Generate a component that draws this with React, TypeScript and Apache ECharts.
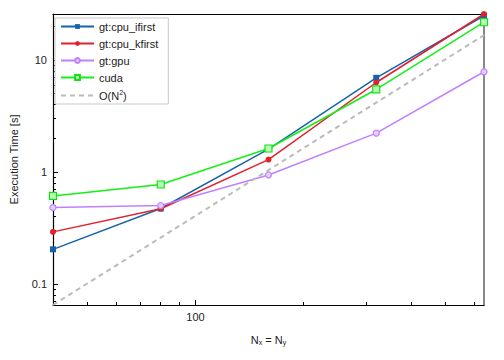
import React, { useEffect, useRef } from "react";
import * as echarts from "echarts";

const xValues = [40, 80, 160, 320, 640];
const cpuIfirst = [0.204, 0.472, 1.6, 6.93, 24.8];
const cpuKfirst = [0.292, 0.47, 1.29, 6.29, 25.7];
const gtGpu = [0.482, 0.502, 0.94, 2.22, 7.84];
const cuda = [0.611, 0.773, 1.62, 5.45, 21.7];
const oN2 = [0.065, 0.26, 1.04, 4.16, 16.64];

const xMajor = [100];
const xMinor = [50, 60, 70, 80, 90, 200, 300, 400, 500, 600];
const yMajor = [0.1, 1, 10];
const yMinor = [0.07, 0.08, 0.09, 0.2, 0.3, 0.4, 0.5, 0.6, 0.7, 0.8, 0.9, 2, 3, 4, 5, 6, 7, 8, 9, 20];

const X_MIN = 40, X_MAX = 640, Y_MIN = 0.065, Y_MAX = 25.7;
const FONT = "Liberation Sans";
const TXT = "#222";

const pts = (ys: number[]) => xValues.map((x, i) => [x, ys[i]]);

export default function App() {
  const ref = useRef<HTMLDivElement>(null);
  useEffect(() => {
    const chart = echarts.init(ref.current!, null, { renderer: "svg" });
    const baseX = { type: "log", logBase: 10, min: X_MIN, max: X_MAX, gridIndex: 0 };
    const baseY = { type: "log", logBase: 10, min: Y_MIN, max: Y_MAX, gridIndex: 0 };
    chart.setOption({
      animation: false,
      backgroundColor: "#fff",
      grid: { left: 48, right: 20, top: 14, bottom: 55 },
      legend: {
        orient: "vertical",
        left: 55,
        top: 18,
        itemWidth: 33,
        itemHeight: 6,
        itemGap: 6,
        padding: [3, 10, 3, 5],
        borderColor: "#c8c8c8",
        borderWidth: 1,
        backgroundColor: "#fff",
        textStyle: {
          fontFamily: FONT,
          fontSize: 11,
          color: TXT,
          rich: { sup: { fontSize: 7, verticalAlign: "top", padding: [0, 0, 6, 0], fontFamily: FONT, color: TXT } },
        },
        formatter: (n: string) => (n === "O(N^2)" ? "O(N{sup|2})" : n),
        data: [
          "gt:cpu_ifirst",
          "gt:cpu_kfirst",
          "gt:gpu",
          "cuda",
          { name: "O(N^2)", itemStyle: { opacity: 0 } },
        ],
      },
      xAxis: [
        {
          ...baseX,
          position: "bottom",
          name: "N{sub|x} = N{sub|y}",
          nameLocation: "middle",
          nameGap: 28,
          nameTextStyle: {
            fontFamily: FONT,
            fontSize: 11,
            color: TXT,
            rich: { sub: { fontSize: 7, verticalAlign: "bottom", padding: [6, 0, 0, 0], fontFamily: FONT, color: TXT } },
          },
          axisLine: { show: true, lineStyle: { color: "#000", width: 1.2 } },
          axisTick: { show: true, inside: true, length: 5, customValues: xMajor, lineStyle: { color: "#000" } },
          axisLabel: { show: true, customValues: xMajor, fontFamily: FONT, fontSize: 11, color: TXT, margin: 6 },
          splitLine: { show: false },
        },
        {
          ...baseX,
          position: "bottom",
          axisLine: { show: false },
          axisTick: { show: true, inside: true, length: 3, customValues: xMinor, lineStyle: { color: "#000" } },
          axisLabel: { show: false },
          splitLine: { show: false },
        },
        {
          ...baseX,
          position: "top",
          axisLine: { show: true, lineStyle: { color: "#000", width: 1.2 } },
          axisTick: { show: false },
          axisLabel: { show: false },
          splitLine: { show: false },
        },
      ],
      yAxis: [
        {
          ...baseY,
          position: "left",
          name: "Execution Time [s]",
          nameLocation: "middle",
          nameGap: 34,
          nameTextStyle: { fontFamily: FONT, fontSize: 11, color: TXT },
          axisLine: { show: true, lineStyle: { color: "#000", width: 1.2 } },
          axisTick: { show: true, inside: true, length: 5, customValues: yMajor, lineStyle: { color: "#000" } },
          axisLabel: {
            show: true,
            customValues: yMajor,
            fontFamily: FONT,
            fontSize: 11,
            color: TXT,
            margin: 6,
            formatter: (v: number) => String(v),
          },
          splitLine: { show: false },
        },
        {
          ...baseY,
          position: "left",
          axisLine: { show: false },
          axisTick: { show: true, inside: true, length: 3, customValues: yMinor, lineStyle: { color: "#000" } },
          axisLabel: { show: false },
          splitLine: { show: false },
        },
        {
          ...baseY,
          position: "right",
          axisLine: { show: true, lineStyle: { color: "#888", width: 2 } },
          axisTick: { show: false },
          axisLabel: { show: false },
          splitLine: { show: false },
        },
      ],
      series: [
        {
          name: "gt:cpu_ifirst",
          type: "line",
          data: pts(cpuIfirst),
          symbol: "rect",
          symbolSize: 6,
          lineStyle: { color: "#1764ab", width: 1.5 },
          itemStyle: { color: "#1764ab" },
        },
        {
          name: "gt:cpu_kfirst",
          type: "line",
          data: pts(cpuKfirst),
          symbol: "circle",
          symbolSize: 6,
          lineStyle: { color: "#e3202a", width: 1.5 },
          itemStyle: { color: "#e3202a" },
        },
        {
          name: "gt:gpu",
          type: "line",
          data: pts(gtGpu),
          symbol: "circle",
          symbolSize: 6,
          lineStyle: { color: "#bf80ff", width: 1.5 },
          itemStyle: { color: "#e6ccff", borderColor: "#bf80ff", borderWidth: 1.2 },
        },
        {
          name: "cuda",
          type: "line",
          data: pts(cuda),
          symbol: "rect",
          symbolSize: 7,
          lineStyle: { color: "#14f014", width: 1.5 },
          itemStyle: { color: "#b8ffb8", borderColor: "#14e014", borderWidth: 1.2 },
        },
        {
          name: "O(N^2)",
          type: "line",
          data: pts(oN2),
          symbol: "none",
          lineStyle: { color: "#bbbbbb", width: 2, type: [5, 4] },
          itemStyle: { color: "#bbbbbb" },
        },
      ],
    });
    return () => chart.dispose();
  }, []);
  return <div ref={ref} style={{ width: 504, height: 360, margin: -8 }} />;
}
